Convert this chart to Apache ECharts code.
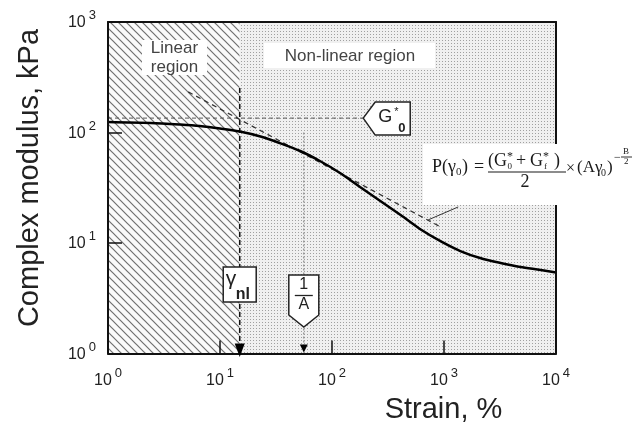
<!DOCTYPE html>
<html><head><meta charset="utf-8">
<script src="https://cdn.jsdelivr.net/npm/echarts@6/dist/echarts.min.js"></script>
<style>html,body{margin:0;padding:0;background:#fff}#c{width:644px;height:427px}</style>
</head><body><div id="c"></div>
<script>
// Strain sweep: complex modulus (kPa) against strain (%)
const strain  = [1, 2.4, 4.4, 6.6, 10, 15, 23, 34, 52, 78, 118, 178, 270, 410, 610, 930, 1400, 2100, 3200, 4800, 7300, 10000];
const modulus = [124.5, 122, 118, 114.5, 108.7, 102, 92, 80.4, 68, 55.2, 43, 32.1, 24, 17.9, 13.4, 10.4, 8.46, 7.31, 6.59, 6.06, 5.7, 5.41];

// Power-law asymptote (dashed)
const slopeStrain  = [5.2, 930];
const slopeModulus = [233, 14];

// Leader from the asymptote to the P(γ0) expression
const leaderStrain  = [724, 1340];
const leaderModulus = [16.2, 21.2];

const gammaNl = 15;      // onset of the non-linear region
const gammaNlTop = 253;
const invA = 56;         // 1/A
const invATop = 100;
const G0 = 135;          // G*0 level
const g0LineEnd = 190;

const xTicks = [1, 10, 100, 1000, 10000];
const yTicks = [1, 10, 100, 1000];

const SANS = 'Liberation Sans, Arial, sans-serif';
const SERIF = 'Liberation Serif, Times New Roman, serif';

function hatchPattern() {
  const c = document.createElement('canvas');
  c.width = 8; c.height = 8;
  const g = c.getContext('2d');
  g.fillStyle = '#fafafa'; g.fillRect(0, 0, 8, 8);
  g.strokeStyle = '#707070'; g.lineWidth = 1.2;
  g.beginPath();
  g.moveTo(-2, -2); g.lineTo(10, 10);
  g.moveTo(-6, 2); g.lineTo(6, 14);
  g.moveTo(2, -6); g.lineTo(14, 6);
  g.stroke();
  return c;
}
function dotPattern() {
  const c = document.createElement('canvas');
  c.width = 3; c.height = 3;
  const g = c.getContext('2d');
  g.fillStyle = '#f0f0f0'; g.fillRect(0, 0, 3, 3);
  g.fillStyle = '#a0a0a0'; g.fillRect(1, 1, 1, 1);
  return c;
}

const pow10Label = {
  formatter: v => '{b|10}{s|' + Math.round(Math.log10(v)) + '}',
  rich: {
    b: { fontSize: 16, fontFamily: SANS, color: '#222', lineHeight: 18, verticalAlign: 'bottom' },
    s: { fontSize: 13, fontFamily: SANS, color: '#222', lineHeight: 14, padding: [0, 0, 9, 3], verticalAlign: 'bottom' }
  }
};

const chart = echarts.init(document.getElementById('c'), null, { renderer: 'canvas' });

const pair = (xs, ys) => xs.map((x, i) => [x, ys[i]]);

chart.setOption({
  animation: false,
  backgroundColor: '#fff',
  grid: { left: 108, right: 88, top: 22, bottom: 73.5 },
  xAxis: [{
    type: 'log', logBase: 10, min: 1, max: 10000, z: 10,
    axisLine: { lineStyle: { color: '#111', width: 2 } },
    axisTick: { inside: true, length: 13, customValues: xTicks, lineStyle: { color: '#111', width: 1.5 } },
    axisLabel: Object.assign({ customValues: xTicks, margin: 17 }, pow10Label),
    splitLine: { show: false }, minorTick: { show: false }
  }, {
    type: 'log', logBase: 10, min: 1, max: 10000, position: 'top', z: 10,
    axisLine: { lineStyle: { color: '#111', width: 2 } },
    axisTick: { show: false }, axisLabel: { show: false }, splitLine: { show: false }
  }],
  yAxis: [{
    type: 'log', logBase: 10, min: 1, max: 1000, z: 10,
    axisLine: { lineStyle: { color: '#111', width: 2 } },
    axisTick: { inside: true, length: 14, customValues: yTicks, lineStyle: { color: '#111', width: 1.5 } },
    axisLabel: Object.assign({ customValues: yTicks, margin: 12 }, pow10Label),
    splitLine: { show: false }, minorTick: { show: false }
  }, {
    type: 'log', logBase: 10, min: 1, max: 1000, position: 'right', z: 10,
    axisLine: { lineStyle: { color: '#111', width: 2 } },
    axisTick: { show: false }, axisLabel: { show: false }, splitLine: { show: false }
  }],
  series: [
    {
      name: 'regions', type: 'line', z: 1, silent: true, showSymbol: false,
      data: [[1, 1]], lineStyle: { width: 0 },
      markArea: {
        silent: true,
        data: [
          [{ xAxis: 1, yAxis: 1, itemStyle: { color: { image: hatchPattern(), repeat: 'repeat' } } }, { xAxis: gammaNl, yAxis: 1000 }],
          [{ xAxis: gammaNl, yAxis: 1, itemStyle: { color: { image: dotPattern(), repeat: 'repeat' } } }, { xAxis: 10000, yAxis: 1000 }]
        ]
      }
    },
    {
      name: 'G0 level', type: 'line', z: 3, silent: true, showSymbol: false,
      data: [[1, G0], [g0LineEnd, G0]],
      lineStyle: { color: '#555', width: 1, type: [4, 3] }
    },
    {
      name: 'gamma_nl', type: 'line', z: 3, silent: true, showSymbol: false,
      data: [[gammaNl, gammaNlTop], [gammaNl, 1]],
      lineStyle: { color: '#111', width: 1.6, type: [5, 3] }
    },
    {
      name: '1/A', type: 'line', z: 3, silent: true, showSymbol: false,
      data: [[invA, invATop], [invA, 1]],
      lineStyle: { color: '#777', width: 1, type: [2, 2] }
    },
    {
      name: 'asymptote', type: 'line', z: 3, silent: true, showSymbol: false,
      data: pair(slopeStrain, slopeModulus),
      lineStyle: { color: '#333', width: 1.3, type: [5, 4] }
    },
    {
      name: 'leader', type: 'line', z: 3, silent: true, showSymbol: false,
      data: pair(leaderStrain, leaderModulus),
      lineStyle: { color: '#333', width: 1 }
    },
    {
      name: 'Complex modulus', type: 'line', z: 5, silent: true, showSymbol: false,
      smooth: 0.3,
      data: pair(strain, modulus),
      lineStyle: { color: '#000', width: 2.5 }
    }
  ]
});

// Annotation tags and labels, anchored to the data values where they mark one
const P = (x, y) => chart.convertToPixel({ xAxisIndex: 0, yAxisIndex: 0 }, [x, y]);
const txt = (text, x, y, size, o) => Object.assign({
  type: 'text', x: x, y: y, z: 60,
  style: { text: text, fontSize: size, fontFamily: (o && o.family) || SANS, fontWeight: (o && o.weight) || 'normal',
           fill: (o && o.fill) || '#222', align: (o && o.align) || 'left', verticalAlign: 'middle' }
}, o && o.rotation !== undefined ? { rotation: o.rotation } : {});

const els = [];
// region captions
els.push({ type: 'rect', z: 50, shape: { x: 142, y: 40, width: 65, height: 35 }, style: { fill: '#fff' } });
els.push(txt('Linear', 174.5, 48, 17, { align: 'center', fill: '#444' }));
els.push(txt('region', 174.5, 67, 17, { align: 'center', fill: '#444' }));
els.push({ type: 'rect', z: 50, shape: { x: 264, y: 43, width: 171, height: 25 }, style: { fill: '#fff' } });
els.push(txt('Non-linear region', 350, 56.5, 17, { align: 'center', fill: '#444' }));

// G*0 tag
const [gx, gy] = P(g0LineEnd, G0);
els.push({ type: 'polygon', z: 55, shape: { points: [[gx, gy], [gx + 12, gy - 16], [gx + 47, gy - 16], [gx + 47, gy + 17], [gx + 12, gy + 17]] },
           style: { fill: '#fff', stroke: '#222', lineWidth: 1.5 } });
els.push(txt('G', gx + 15, gy - 1.5, 18));
els.push(txt('*', gx + 31, gy - 6, 11));
els.push(txt('0', gx + 35, gy + 10, 13, { weight: 'bold' }));

// γnl tag and arrow
const [nx, ny] = P(gammaNl, 1);
els.push({ type: 'rect', z: 55, shape: { x: nx - 16.5, y: 267, width: 33, height: 35 }, style: { fill: '#fff', stroke: '#222', lineWidth: 1.5 } });
els.push(txt('γ', nx - 14, 279, 21));
els.push(txt('nl', nx - 4, 295, 16, { weight: 'bold' }));
els.push({ type: 'polygon', z: 55, shape: { points: [[nx - 5, ny - 10], [nx + 5, ny - 10], [nx, ny + 3.5]] }, style: { fill: '#000' } });

// 1/A tag and arrow
const [ax, ay] = P(invA, 1);
els.push({ type: 'polygon', z: 55, shape: { points: [[ax - 15, 275], [ax + 15, 275], [ax + 15, 315], [ax, 327], [ax - 15, 315]] },
           style: { fill: '#fff', stroke: '#222', lineWidth: 1.5 } });
els.push(txt('1', ax, 285, 16, { align: 'center' }));
els.push({ type: 'line', z: 56, shape: { x1: ax - 9, y1: 295.5, x2: ax + 9, y2: 295.5 }, style: { stroke: '#222', lineWidth: 1.3 } });
els.push(txt('A', ax, 304.5, 16, { align: 'center' }));
els.push({ type: 'polygon', z: 55, shape: { points: [[ax - 4, ay - 9], [ax + 4, ay - 9], [ax, ay - 1]] }, style: { fill: '#000' } });

// P(γ0) expression
els.push({ type: 'rect', z: 50, shape: { x: 423, y: 144, width: 221, height: 61 }, style: { fill: '#fff' } });
const F = { family: SERIF, fill: '#1a1a1a' };
els.push(txt('P(γ', 432, 167, 18, F));
els.push(txt('0', 456, 172, 11, F));
els.push(txt(')', 462, 167, 18, F));
els.push(txt('=', 474, 167, 18, F));
els.push(txt('(G', 488, 161, 18, F));
els.push(txt('*', 507, 157, 12, F));
els.push(txt('0', 507.5, 167, 9, F));
els.push(txt('+', 516, 161, 18, F));
els.push(txt('G', 530, 161, 18, F));
els.push(txt('*', 543, 157, 12, F));
els.push(txt('f', 544, 167, 9, F));
els.push(txt(')', 554, 161, 18, F));
els.push({ type: 'line', z: 56, shape: { x1: 488, y1: 172, x2: 566, y2: 172 }, style: { stroke: '#1a1a1a', lineWidth: 1.2 } });
els.push(txt('2', 525, 182.5, 18, Object.assign({ align: 'center' }, F)));
els.push(txt('×', 566, 169, 16, F));
els.push(txt('(Aγ', 577, 168, 17, F));
els.push(txt('0', 601, 173, 10, F));
els.push(txt(')', 607, 168, 17, F));
els.push(txt('−', 614, 158, 12, F));
els.push(txt('B', 623, 152, 9, F));
els.push({ type: 'line', z: 56, shape: { x1: 621, y1: 157, x2: 632, y2: 157 }, style: { stroke: '#1a1a1a', lineWidth: 0.9 } });
els.push(txt('2', 624, 162, 9, F));

// axis titles
els.push(txt('Complex modulus, kPa', 30, 178, 29, { align: 'center', rotation: Math.PI / 2, fill: '#222' }));
els.push(txt('Strain, %', 443.5, 410, 29, { align: 'center', fill: '#222' }));

chart.setOption({ graphic: { elements: els } });
</script>
</body></html>
